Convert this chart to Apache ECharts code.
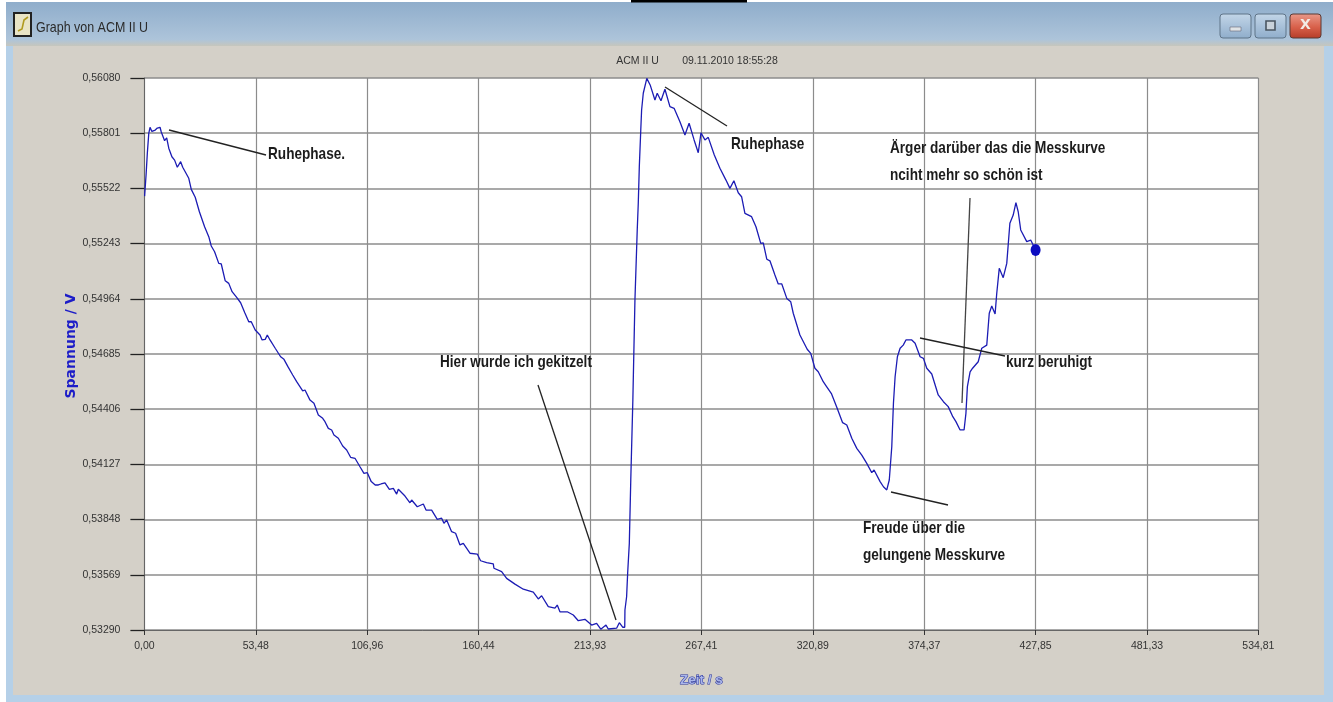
<!DOCTYPE html>
<html><head><meta charset="utf-8">
<style>html,body{margin:0;padding:0;background:#fff}#c{width:1333px;height:702px}</style>
<script src="https://cdn.jsdelivr.net/npm/echarts@6/dist/echarts.min.js"></script>
</head><body><div id="c"></div>
<script>
const xTickLabels = ["0,00","53,48","106,96","160,44","213,93","267,41","320,89","374,37","427,85","481,33","534,81"];
const yTickLabels = ["0,53290","0,53569","0,53848","0,54127","0,54406","0,54685","0,54964","0,55243","0,55522","0,55801","0,56080"];
const times = [0.1,0.8,1.4,2.1,2.7,3.6,5.2,6.2,7.5,8.1,9.7,10.7,11.7,13.2,14.5,15.8,17.4,18.4,19.3,21.3,22.5,24.4,26.4,28.9,30.9,32.1,33.7,35.7,36.9,38.8,40.5,42.1,44.3,46.2,48.2,50.1,51.3,53.2,55.5,56.5,58.0,59.0,60.3,62.8,65.4,67.0,68.9,71.2,73.1,76.0,77.1,79.5,81.4,83.5,85.6,86.7,88.3,89.9,91.0,93.1,95.2,97.1,99.0,101.1,103.5,105.4,107.0,108.9,110.8,112.3,113.6,115.5,117.6,119.5,121.1,121.9,125.1,127.5,128.3,131.0,133.9,135.2,137.9,140.6,142.7,143.8,145.1,147.5,149.4,151.5,153.1,156.3,159.8,161.4,164.3,167.5,167.8,171.5,173.9,177.9,181.9,186.7,189.1,190.7,193.9,197.1,198.2,199.5,203.0,205.9,208.3,211.5,214.7,217.1,219.1,221.6,222.7,226.7,228.0,229.6,230.6,230.7,231.5,232.0,232.8,233.5,234.5,235.5,236.6,237.1,237.6,238.3,238.7,239.5,241.2,242.8,245.1,246.2,248.0,249.9,252.3,254.3,257.1,259.5,261.5,263.9,265.9,267.2,269.1,270.7,273.6,276.3,279.2,281.1,283.0,285.1,286.7,288.3,291.5,293.6,295.9,297.1,298.8,300.3,302.7,304.3,306.0,308.4,310.3,311.5,314.7,318.2,319.9,321.9,323.5,325.9,327.5,329.9,332.4,335.2,337.2,339.6,342.0,344.4,346.8,349.2,350.3,353.2,354.8,356.4,357.6,358.8,359.6,360.4,361.5,362.8,364.3,365.6,368.4,370.0,372.4,374.0,375.6,378.0,381.1,383.6,385.9,388.1,389.6,391.6,393.5,394.4,395.1,396.4,397.6,400.3,402.0,404.4,405.6,406.8,408.4,409.2,410.4,412.3,414.0,415.5,417.1,418.4,419.5,420.7,423.6,425.5,427.85];
const volts = [0.55483,0.55590,0.55699,0.55800,0.55831,0.55810,0.55817,0.55827,0.55831,0.55807,0.55763,0.55777,0.55725,0.55682,0.55665,0.55629,0.55657,0.55629,0.55629,0.55573,0.55517,0.55477,0.55404,0.55328,0.55278,0.55231,0.55202,0.55143,0.55140,0.55055,0.55042,0.55000,0.54971,0.54944,0.54894,0.54848,0.54848,0.54806,0.54781,0.54756,0.54759,0.54781,0.54756,0.54714,0.54671,0.54658,0.54621,0.54579,0.54545,0.54499,0.54503,0.54452,0.54436,0.54377,0.54360,0.54343,0.54309,0.54301,0.54276,0.54259,0.54220,0.54200,0.54163,0.54158,0.54115,0.54082,0.54085,0.54040,0.54023,0.54023,0.54028,0.54034,0.54001,0.54006,0.53977,0.54001,0.53967,0.53933,0.53947,0.53913,0.53927,0.53896,0.53896,0.53849,0.53855,0.53829,0.53846,0.53787,0.53779,0.53720,0.53728,0.53678,0.53674,0.53640,0.53630,0.53624,0.53602,0.53585,0.53551,0.53522,0.53496,0.53481,0.53447,0.53463,0.53408,0.53400,0.53416,0.53382,0.53382,0.53366,0.53337,0.53344,0.53315,0.53324,0.53294,0.53315,0.53295,0.53299,0.53327,0.53304,0.53304,0.53391,0.53458,0.53577,0.53728,0.54048,0.54452,0.54958,0.55312,0.55447,0.55632,0.55817,0.55918,0.56003,0.56078,0.56045,0.55969,0.56003,0.55965,0.56023,0.55935,0.55927,0.55859,0.55792,0.55851,0.55767,0.55702,0.55803,0.55767,0.55780,0.55691,0.55624,0.55564,0.55522,0.55561,0.55500,0.55480,0.55396,0.55379,0.55328,0.55244,0.55247,0.55164,0.55156,0.55084,0.55039,0.55039,0.54966,0.54949,0.54891,0.54781,0.54709,0.54688,0.54613,0.54595,0.54545,0.54520,0.54483,0.54416,0.54338,0.54326,0.54259,0.54208,0.54174,0.54132,0.54085,0.54099,0.54040,0.54014,0.53998,0.54048,0.54216,0.54436,0.54570,0.54671,0.54714,0.54730,0.54756,0.54756,0.54739,0.54671,0.54663,0.54613,0.54584,0.54478,0.54444,0.54419,0.54368,0.54343,0.54301,0.54301,0.54385,0.54520,0.54595,0.54613,0.54646,0.54714,0.54730,0.54891,0.54928,0.54887,0.54992,0.55118,0.55071,0.55143,0.55346,0.55387,0.55450,0.55404,0.55312,0.55253,0.55261,0.55211];
const lastPoint = [times[times.length-1], volts[volts.length-1]];
const sans = '"Liberation Sans",sans-serif';
const ann = {stroke:'#222',lineWidth:1.3};
function seg(x1,y1,x2,y2,s){return {type:'line',silent:true,z:10,shape:{x1,y1,x2,y2},style:Object.assign({},ann,s||{})};}
function note(x,y,t){return {type:'text',silent:true,z:10,x,y,scaleX:0.8,style:{text:t,font:'bold 17px '+sans,fill:'#1c1c1c',lineHeight:27}};}
const chart = echarts.init(document.getElementById('c'),null,{renderer:'canvas'});
chart.setOption({
  animation:false,
  backgroundColor:'#ffffff',
  title:{text:'ACM II U        09.11.2010 18:55:28',left:692,top:51,textAlign:'center',textStyle:{fontFamily:sans,fontSize:10.5,fontWeight:'normal',color:'#333'}},
  grid:{left:144.4,right:74.6,top:78,bottom:72,containLabel:false},
  xAxis:{type:'value',min:0,max:534.81,interval:53.481,
    name:'Zeit / s',nameLocation:'middle',nameGap:43,
    nameTextStyle:{fontFamily:sans,fontSize:13.5,fontWeight:'bold',color:'#aab6ea',textBorderColor:'#26309a',textBorderWidth:1},
    axisLine:{lineStyle:{color:'#666',width:1}},
    axisTick:{length:5,lineStyle:{color:'#333',width:1}},
    axisLabel:{margin:11,fontFamily:sans,fontSize:10.5,color:'#333',formatter:(v,i)=>xTickLabels[i]},
    splitLine:{show:true,lineStyle:{color:'#8c8c8c',width:1.2}}},
  yAxis:{type:'value',min:0.5329,max:0.5608,interval:0.00279,
    axisLine:{lineStyle:{color:'#666',width:1}},
    axisTick:{length:14,lineStyle:{color:'#222',width:1.3}},
    axisLabel:{margin:24,fontFamily:sans,fontSize:10.5,color:'#333',formatter:(v,i)=>yTickLabels[i]},
    splitLine:{show:true,lineStyle:{color:'#8c8c8c',width:1.5}}},
  series:[
    {type:'line',data:times.map((t,i)=>[t,volts[i]]),showSymbol:false,symbol:'none',lineStyle:{color:'#1c1cb4',width:1.3},z:5},
    {type:'scatter',data:[lastPoint],symbol:'circle',symbolSize:[10,12],itemStyle:{color:'#0c0cc0',opacity:1},z:6}
  ],
  graphic:[
    {type:'rect',z:-10,silent:true,shape:{x:6,y:2,width:1327,height:700},style:{fill:'#b5d0e8'}},
    {type:'rect',z:-9,silent:true,shape:{x:6,y:2,width:1327,height:44},style:{fill:new echarts.graphic.LinearGradient(0,0,0,1,[{offset:0,color:'#8fadcb'},{offset:0.85,color:'#adc4da'},{offset:1,color:'#c6c6bd'}])}},
    {type:'rect',z:-8,silent:true,shape:{x:13,y:46,width:1311,height:649},style:{fill:'#d4d0c8'}},
    {type:'rect',z:-7,silent:true,shape:{x:144.4,y:78,width:1114,height:552},style:{fill:'#ffffff'}},
    {type:'rect',z:20,silent:true,shape:{x:631,y:0,width:116,height:2.5},style:{fill:'#000'}},
    {type:'rect',z:-6,silent:true,shape:{x:14,y:13,width:17,height:23},style:{fill:'#e9e4c6',stroke:'#222',lineWidth:2}},
    {type:'polyline',z:-5,silent:true,shape:{points:[[18,31],[22,29],[24,20],[28,17]]},style:{stroke:'#b09a20',lineWidth:1.6,fill:null}},
    {type:'text',z:-5,silent:true,x:36,y:20,scaleX:0.83,style:{text:'Graph von ACM II U',font:'15px '+sans,fill:'#2a2a2a'}},
    {type:'text',z:10,silent:true,x:71,y:346,rotation:Math.PI/2,style:{text:'Spannung / V',font:'bold 14px "DejaVu Sans",sans-serif',fill:'#1c1cc8',textAlign:'center',textVerticalAlign:'middle'}},
    {type:'rect',z:-5,silent:true,shape:{x:1220,y:14,width:31,height:24,r:3},style:{fill:new echarts.graphic.LinearGradient(0,0,0,1,[{offset:0,color:'#c3d6e8'},{offset:1,color:'#8fadcb'}]),stroke:'#5f7488',lineWidth:1}},
    {type:'rect',z:-4,silent:true,shape:{x:1230,y:27,width:11,height:4},style:{fill:'#dfe3e6',stroke:'#667',lineWidth:0.6}},
    {type:'rect',z:-5,silent:true,shape:{x:1255,y:14,width:31,height:24,r:3},style:{fill:new echarts.graphic.LinearGradient(0,0,0,1,[{offset:0,color:'#c3d6e8'},{offset:1,color:'#8fadcb'}]),stroke:'#5f7488',lineWidth:1}},
    {type:'rect',z:-4,silent:true,shape:{x:1266,y:21,width:9,height:9},style:{fill:'#c9d2da',stroke:'#4a5560',lineWidth:1.6}},
    {type:'rect',z:-5,silent:true,shape:{x:1290,y:14,width:31,height:24,r:3},style:{fill:new echarts.graphic.LinearGradient(0,0,0,1,[{offset:0,color:'#e99a8a'},{offset:0.55,color:'#d8604a'},{offset:1,color:'#b43c28'}]),stroke:'#5a3a34',lineWidth:1}},
    {type:'text',z:-4,silent:true,x:1300,y:18,style:{text:'X',font:'bold 14px "DejaVu Sans",sans-serif',fill:'#f2ece6'}},
    seg(169,130,266,155), note(268,141,'Ruhephase.'),
    seg(665,87,727,126), note(731,131,'Ruhephase'),
    note(890,135,'Ärger darüber das die Messkurve\nnciht mehr so schön ist'),
    seg(970,198,962,403,{stroke:'#444'}),
    seg(920,338,1005,356), note(1006,349,'kurz beruhigt'),
    note(440,349,'Hier wurde ich gekitzelt'),
    seg(538,385,616,620),
    seg(891,492,948,505), note(863,515,'Freude über die\ngelungene Messkurve')
  ]
});
</script></body></html>
